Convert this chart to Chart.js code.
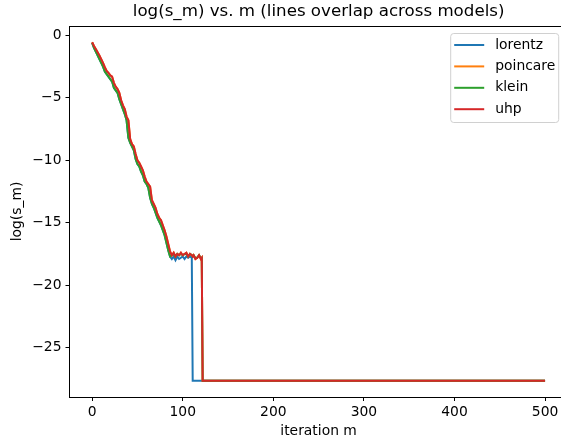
<!DOCTYPE html>
<html>
<head>
<meta charset="utf-8">
<script src="https://cdn.jsdelivr.net/npm/chart.js@4.4.1/dist/chart.umd.min.js"></script>
<style>
  html, body { margin: 0; padding: 0; background: #fff; overflow: hidden; }
  #wrap { width: 637px; height: 440px; position: relative; }
</style>
</head>
<body>
<div id="wrap"><canvas id="c" width="637" height="440"></canvas></div>
<script>
// ---- data ----
const iters = [0,2,4,6,8,10,12,14,16,18,20,22,24,26,28,30,32,34,36,38,40,42,44,46,48,50,52,54,56,58,60,62,64,66,68,70,72,74,76,78,80,82,84,86,88,90,92,94,96,98,100,102,104,106,108,110,111,112,114,116,118,120,121,122,500];

const lorentzVals = [-0.6,-1.0,-1.3,-1.6,-1.9,-2.2,-2.5,-2.9,-3.1,-3.3,-3.5,-3.7,-4.2,-4.4,-4.6,-5.1,-5.5,-5.9,-6.3,-6.8,-8.2,-8.6,-8.9,-9.2,-9.9,-10.3,-10.5,-10.9,-11.2,-11.7,-11.9,-12.2,-13.0,-13.5,-13.8,-14.2,-14.6,-14.9,-15.2,-15.6,-16.0,-16.6,-17.2,-17.7,-17.9,-17.7,-18.0,-17.7,-17.9,-17.8,-17.7,-17.9,-17.7,-17.8,-17.7,-17.8,-27.65,-27.65,-27.65,-27.65,-27.65,-27.65,-27.65,-27.65,-27.65];

const poincareVals = [-0.55,-0.85,-1.1,-1.35,-1.6,-1.9,-2.2,-2.55,-2.85,-3.0,-3.2,-3.3,-3.8,-4.1,-4.3,-4.6,-5.2,-5.6,-5.9,-6.5,-6.8,-8.3,-8.7,-8.9,-9.5,-10.0,-10.2,-10.5,-10.8,-11.3,-11.7,-11.9,-12.1,-13.2,-13.5,-13.8,-14.3,-14.6,-14.8,-15.2,-15.6,-16.1,-16.7,-17.3,-17.6,-17.4,-17.7,-17.5,-17.6,-17.4,-17.6,-17.5,-17.4,-17.7,-17.5,-17.6,-17.7,-17.6,-17.9,-17.8,-17.6,-17.9,-17.8,-27.65,-27.65];

const kleinVals = [-0.6,-1.0,-1.3,-1.6,-1.9,-2.2,-2.5,-2.9,-3.1,-3.3,-3.5,-3.7,-4.2,-4.4,-4.6,-5.1,-5.5,-5.9,-6.3,-6.8,-8.2,-8.6,-8.9,-9.2,-9.9,-10.3,-10.5,-10.9,-11.2,-11.7,-11.9,-12.2,-13.0,-13.5,-13.8,-14.2,-14.6,-14.9,-15.2,-15.6,-16.0,-16.6,-17.2,-17.7,-17.6,-17.5,-17.7,-17.5,-17.6,-17.5,-17.6,-17.5,-17.5,-17.7,-17.5,-17.6,-17.7,-17.6,-17.8,-17.8,-17.6,-17.8,-17.8,-27.65,-27.65];

const uhpVals = [-0.55,-0.85,-1.1,-1.35,-1.6,-1.9,-2.2,-2.55,-2.85,-3.0,-3.2,-3.3,-3.8,-4.1,-4.3,-4.6,-5.2,-5.6,-5.9,-6.5,-6.8,-8.3,-8.7,-8.9,-9.5,-10.0,-10.2,-10.5,-10.8,-11.3,-11.7,-11.9,-12.1,-13.2,-13.5,-13.8,-14.3,-14.6,-14.8,-15.2,-15.6,-16.1,-16.7,-17.3,-17.6,-17.4,-17.7,-17.5,-17.6,-17.4,-17.6,-17.5,-17.4,-17.7,-17.5,-17.6,-17.7,-17.6,-17.9,-17.8,-17.6,-17.9,-17.8,-27.65,-27.65];

const seriesNames = ['lorentz', 'poincare', 'klein', 'uhp'];
const seriesColors = ['#1f77b4', '#ff7f0e', '#2ca02c', '#d62728'];
const xTickValues = [0, 100, 200, 300, 400, 500];
const yTickValues = [-25, -20, -15, -10, -5, 0];
const chartTitle = 'log(s_m) vs. m (lines overlap across models)';
const xLabel = 'iteration m';
const yLabel = 'log(s_m)';

// ---- build chart ----
const allVals = [lorentzVals, poincareVals, kleinVals, uhpVals];
const FONT = 'DejaVu Sans';
const datasets = seriesNames.map((name, k) => ({
  label: name,
  data: iters.map((m, i) => ({ x: m, y: allVals[k][i] })),
  borderColor: seriesColors[k],
  backgroundColor: seriesColors[k],
  borderWidth: 2,
  pointRadius: 0,
  tension: 0,
  fill: false,
  order: seriesNames.length - 1 - k   // later series drawn on top, like matplotlib
}));

const fmt = v => String(v).replace('-', '\u2212');

const framePlugin = {
  id: 'frame',
  afterDatasetsDraw(chart) {
    const { ctx, chartArea: a } = chart;
    ctx.save();
    ctx.strokeStyle = '#000';
    ctx.lineWidth = 1;
    ctx.beginPath();
    ctx.moveTo(a.left, a.top + 0.5);
    ctx.lineTo(a.right, a.top + 0.5);
    ctx.moveTo(a.right - 0.5, a.top);
    ctx.lineTo(a.right - 0.5, a.bottom);
    ctx.stroke();
    ctx.restore();
  }
};

const legendPlugin = {
  id: 'mplLegend',
  afterDraw(chart) {
    const { ctx, chartArea: a } = chart;
    const boxW = 108, boxH = 89;
    const x0 = a.right - 9.5 - boxW;
    const y0 = a.top + 7;
    ctx.save();
    ctx.fillStyle = 'rgba(255,255,255,0.8)';
    ctx.strokeStyle = '#d0d0d0';
    ctx.lineWidth = 1;
    ctx.beginPath();
    ctx.roundRect(x0 + 0.5, y0 + 0.5, boxW, boxH, 3);
    ctx.fill();
    ctx.stroke();
    ctx.font = '13.9px "' + FONT + '"';
    ctx.textBaseline = 'middle';
    ctx.textAlign = 'left';
    seriesNames.forEach((name, k) => {
      const yy = y0 + 12 + k * 21.4;
      ctx.strokeStyle = seriesColors[k];
      ctx.lineWidth = 2;
      ctx.beginPath();
      ctx.moveTo(x0 + 4, yy);
      ctx.lineTo(x0 + 34, yy);
      ctx.stroke();
      ctx.fillStyle = '#000';
      ctx.fillText(name, x0 + 45, yy);
    });
    ctx.restore();
  }
};

new Chart(document.getElementById('c'), {
  type: 'line',
  data: { datasets },
  options: {
    responsive: false,
    animation: false,
    devicePixelRatio: 1,
    layout: { padding: { left: 0, right: 69.3, top: 0, bottom: 0 } },
    plugins: {
      legend: { display: false },
      tooltip: { enabled: false },
      title: {
        display: true,
        fullSize: false,
        text: chartTitle,
        color: '#000',
        font: { family: FONT, size: 16.67, weight: 'normal', lineHeight: 1.2 },
        padding: { top: 1.5, bottom: 4.5 }
      }
    },
    scales: {
      x: {
        type: 'linear',
        min: -25,
        max: 525,
        afterFit: s => { s.height = 43; },
        afterBuildTicks: s => { s.ticks = xTickValues.map(v => ({ value: v })); },
        ticks: { color: '#000', font: { family: FONT, size: 13.89 }, padding: 3, maxRotation: 0, autoSkip: false, callback: fmt },
        grid: { drawOnChartArea: false, drawTicks: true, tickLength: 4, tickColor: '#000', tickWidth: 1 },
        border: { display: true, color: '#000', width: 1 },
        title: { display: true, text: xLabel, color: '#000', font: { family: FONT, size: 13.89 }, padding: { top: 0, bottom: 0 } }
      },
      y: {
        type: 'linear',
        min: -28.95,
        max: 0.75,
        afterFit: s => { s.width = 69.5; },
        afterBuildTicks: s => { s.ticks = yTickValues.map(v => ({ value: v })); },
        ticks: { color: '#000', font: { family: FONT, size: 13.89 }, padding: 4, autoSkip: false, callback: fmt },
        grid: { drawOnChartArea: false, drawTicks: true, tickLength: 4, tickColor: '#000', tickWidth: 1 },
        border: { display: true, color: '#000', width: 1 },
        title: { display: true, text: yLabel, color: '#000', font: { family: FONT, size: 13.89 }, padding: { top: 8.7, bottom: 0 } }
      }
    }
  },
  plugins: [framePlugin, legendPlugin]
});
</script>
</body>
</html>
